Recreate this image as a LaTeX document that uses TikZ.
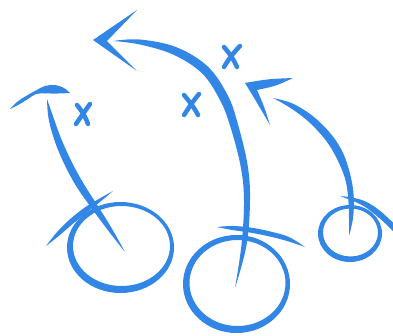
\documentclass[tikz,border=0pt]{standalone}
\usepackage{tikz}
\definecolor{playblue}{RGB}{50,135,230}

\begin{document}
\begin{tikzpicture}[x=1pt, y=-1pt,
    ink/.style={fill=playblue, draw=none},
    ring/.style={fill=playblue, even odd rule},
    cross/.style={draw=playblue, line width=4.5pt, line cap=round},
    sketch/.style={smooth, tension=0.6}]
    \useasboundingbox (0,0) rectangle (393,335);

    % Left player and his route
    \fill[ring] (120.5,247.5) ellipse (53.5pt and 45.5pt) (121.5,246) ellipse (48.5pt and 40pt);
    \fill[ink] plot[sketch] coordinates {(46,246) (59.4,235.4) (73.8,223) (88.6,211) (100.9,201.2) (113,191)}
        -- plot[sketch] coordinates {(113,191) (99.1,198.8) (85.5,207) (70.2,219) (56.6,232.6) (46,246)} -- cycle;
    \fill[ink] plot[sketch] coordinates {(47,99) (53.4,117.3) (61.2,138.7) (71.4,161.3) (83.3,183.1) (96.7,204.2) (110.8,226.7) (125,252)}
        -- plot[sketch] coordinates {(125,252) (107.2,229.3) (91.3,207.8) (76.7,186.9) (64.6,164.7) (54.8,141.3) (48.6,118.7) (47,99)} -- cycle;
    % hooked head
    \fill[ink] plot[sketch] coordinates {(10,109) (17,102) (26,96) (35,91) (45,86) (55,85) (64,88) (70,93)}
        -- plot[sketch] coordinates {(70,93) (58,93.5) (45,93.5) (36,94) (28,99) (18,105) (10,109)} -- cycle;

    % Middle player and the long route
    \fill[ring] (236.5,284) ellipse (53.5pt and 49pt) (237.5,283) ellipse (48pt and 43pt);
    \fill[ink] plot[sketch] coordinates {(217,227) (232,226) (250.4,227.5) (270.7,231.6) (288.9,237) (305,247)}
        -- plot[sketch] coordinates {(305,247) (287.1,241) (269.3,236.4) (249.6,232.5) (232,230) (217,227)} -- cycle;
    \fill[ink] plot[sketch] coordinates {(113,41) (140,39.5) (176.6,47.3) (208.1,66.8) (228,95.9) (237.8,123.8) (247.5,164.4) (250,200) (246.5,245.3) (235,288)}
        -- plot[sketch] coordinates {(235,288) (241.5,244.7) (244,200) (240.5,165.6) (230.2,126.2) (220,100.1) (201.9,73.2) (173.4,54.7) (140,44.5) (113,41)} -- cycle;
    \fill[ink] (137,10) -- (93,40) -- (137,71) -- (107,41) -- cycle;

    % Right player and the short route
    \fill[ring] (350,233.5) ellipse (32pt and 28.5pt) (350.5,232.5) ellipse (27.5pt and 24pt);
    \fill[ink] plot[sketch] coordinates {(340,196) (352.4,197.6) (366.3,201.8) (379.9,210.7) (390,219.8) (398,227)}
        -- (394,232) -- plot[sketch] coordinates {(394,232) (386,224.2) (376.1,215.3) (363.8,206.2) (351.6,200.4) (340,196)} -- cycle;
    \fill[ink] plot[sketch] coordinates {(273,98) (293.2,103.8) (314.3,117.3) (332.2,135.6) (343.6,154.3) (350.9,177.3) (353.8,197.8) (353,218.1) (349,236)}
        -- plot[sketch] coordinates {(349,236) (349,217.9) (348.2,198.2) (345.1,178.7) (336.4,157.7) (325.8,140.4) (309.7,122.7) (290.8,108.2) (273,98)} -- cycle;
    \fill[ink] (293,78) .. controls (268,79) .. (245,83) .. controls (256,101) .. (270,125)
        .. controls (264,106) .. (257,90) .. controls (276,86) .. (293,78) -- cycle;

    % Defenders
    \draw[cross] (77,105) .. controls (82,111) and (86,118) .. (88,124);
    \draw[cross] (90,104) .. controls (85,111) and (80,118) .. (76,124);
    \draw[cross] (184,95) .. controls (190,102) and (195,109) .. (198,115);
    \draw[cross] (199,94) .. controls (193,101) and (188,109) .. (184,115);
    \draw[cross] (224,47) .. controls (230,54) and (234,60) .. (237,67);
    \draw[cross] (240,46) .. controls (234,52) and (228,60) .. (224,67);
\end{tikzpicture}
\end{document}
